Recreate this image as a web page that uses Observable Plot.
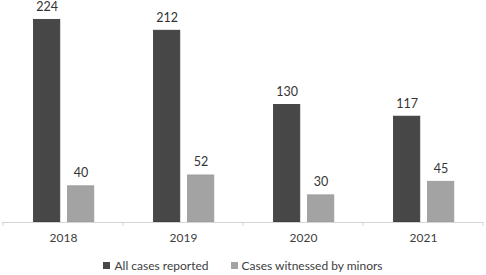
<!DOCTYPE html>
<html>
<head>
<meta charset="utf-8">
<script src="https://cdn.jsdelivr.net/npm/d3@7"></script>
<script src="https://cdn.jsdelivr.net/npm/@observablehq/plot@0.6"></script>
<style>
  html, body { margin: 0; padding: 0; background: #fff; }
  #chart { width: 486px; }
  .legend { display: flex; justify-content: center; align-items: center; height: 23px; margin-top: 4px;
    font-family: Lato, "Open Sans", sans-serif; font-size: 12px; color: #404040; gap: 22px; }
  .legend span.item { display: flex; align-items: center; }
  .legend i { display: inline-block; width: 7px; height: 7px; margin-right: 4px; }
</style>
</head>
<body>
<div id="chart"></div>
<script>
const years = ["2018", "2019", "2020", "2021"];
const allCases = [224, 212, 130, 117];
const minorCases = [40, 52, 30, 45];
const seriesNames = ["All cases reported", "Cases witnessed by minors"];
const seriesColors = ["#474747", "#a3a3a3"];

const data = years.flatMap((y, i) => [
  {year: y, series: seriesNames[0], value: allCases[i]},
  {year: y, series: seriesNames[1], value: minorCases[i]}
]);
const s0 = data.filter(d => d.series === seriesNames[0]);
const s1 = data.filter(d => d.series === seriesNames[1]);

function boundaryTicks(index, scales, values, dimensions) {
  const x = scales.x, y = scales.y;
  const g = d3.create("svg:g");
  const edges = years.map(v => x(v)).concat([x(years[years.length - 1]) + x.bandwidth()]);
  const y0 = y(0);
  for (const e of edges) {
    g.append("line").attr("x1", e).attr("x2", e).attr("y1", y0).attr("y2", y0 + 4)
      .attr("stroke", "#d4d4d4").attr("stroke-width", 1);
  }
  return g.node();
}

const plot = Plot.plot({
  width: 486,
  height: 250,
  marginLeft: 2,
  marginRight: 3,
  marginTop: 4,
  marginBottom: 28,
  style: {fontFamily: "Lato, 'Open Sans', sans-serif", fontSize: "12px", color: "#404040", background: "#fff", overflow: "visible"},
  x: {domain: years, padding: 0, label: null, tickSize: 0, tickPadding: 11},
  y: {domain: [0, 241], axis: null},
  marks: [
    Plot.barY(s0, {x: "year", y: "value", fill: seriesColors[0], stroke: "#383838", strokeWidth: 0.8, insetLeft: 30.5, insetRight: 63.2}),
    Plot.barY(s1, {x: "year", y: "value", fill: seriesColors[1], stroke: "#999", strokeWidth: 0.8, insetLeft: 64.5, insetRight: 29.2}),
    Plot.text(s0, {x: "year", y: "value", text: d => String(d.value), dx: -16.3, dy: -13, fill: "#333", fontSize: 12.5}),
    Plot.text(s1, {x: "year", y: "value", text: d => String(d.value), dx: 17.6, dy: -13, fill: "#333", fontSize: 12.5}),
    Plot.ruleY([0], {stroke: "#d4d4d4", strokeWidth: 1}),
    boundaryTicks
  ]
});
document.getElementById("chart").append(plot);

const legend = document.createElement("div");
legend.className = "legend";
seriesNames.forEach((n, i) => {
  const item = document.createElement("span");
  item.className = "item";
  const sw = document.createElement("i");
  sw.style.background = seriesColors[i];
  item.append(sw, document.createTextNode(n));
  legend.append(item);
});
document.getElementById("chart").append(legend);
</script>
</body>
</html>
